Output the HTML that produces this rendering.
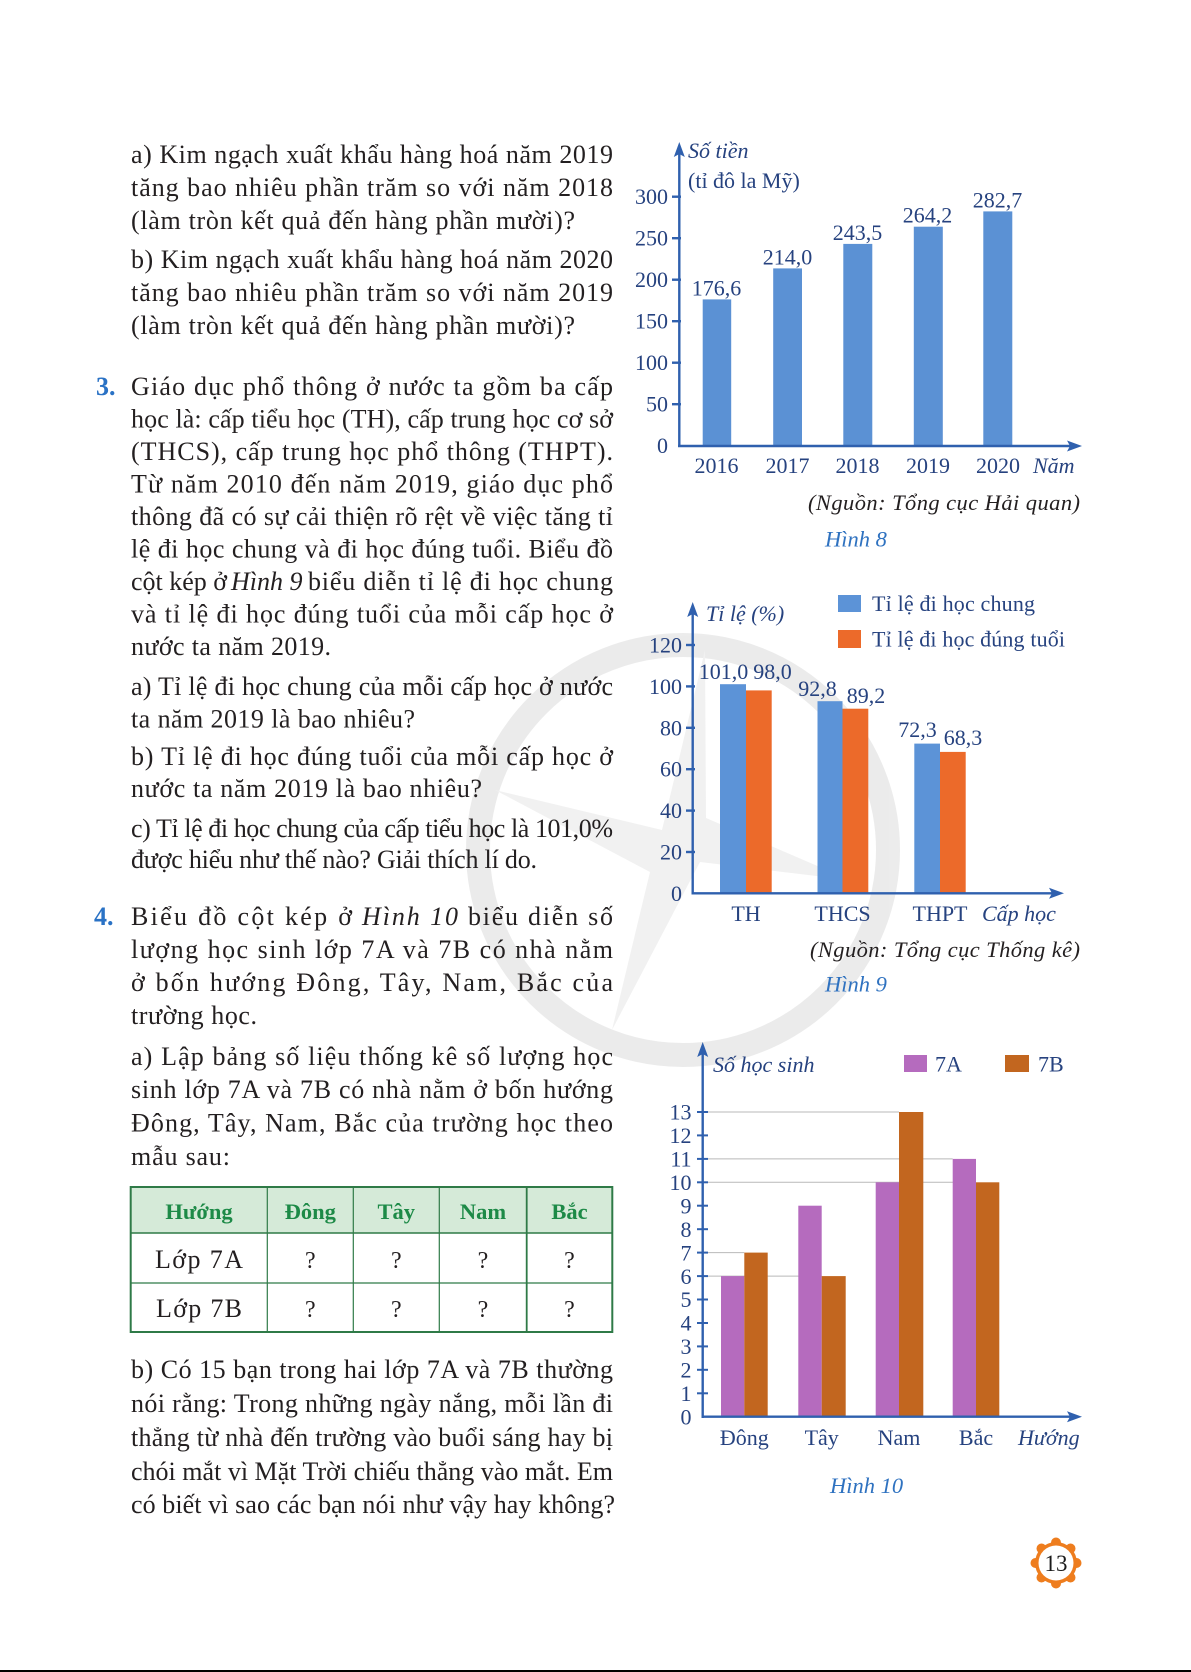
<!DOCTYPE html>
<html>
<head>
<meta charset="utf-8">
<style>
html,body{margin:0;padding:0;background:#fff;}
svg{display:block;}
.b{font-family:"Liberation Serif",serif;font-size:26px;fill:#231f20;}
.c{font-family:"Liberation Serif",serif;font-size:22px;fill:#26427f;}
.ci{font-family:"Liberation Serif",serif;font-size:22px;fill:#26427f;font-style:italic;}
.src{font-family:"Liberation Serif",serif;font-size:22.5px;fill:#231f20;font-style:italic;}
.cap{font-family:"Liberation Serif",serif;font-size:22.5px;fill:#2f72c0;font-style:italic;}
.num{font-family:"Liberation Serif",serif;font-size:26px;font-weight:bold;fill:#2a72c5;}
.th{font-family:"Liberation Serif",serif;font-size:22.5px;font-weight:bold;fill:#1d8a47;}
</style>
</head>
<body>
<svg width="1191" height="1672" viewBox="0 0 1191 1672" xmlns="http://www.w3.org/2000/svg">
<rect x="0" y="0" width="1191" height="1672" fill="#ffffff"/>

<!-- watermark -->
<g opacity="0.55">
<circle cx="683" cy="850" r="205" fill="none" stroke="#dcdcdc" stroke-width="24"/>
<path d="M705,650 L662,830 L495,790 L650,872 L612,1030 L700,862 L850,880 L706,818 Z" fill="#e6e6e6"/>
</g>

<!-- ===== Left column text ===== -->
<g class="b">
<text x="131" y="163" textLength="482" lengthAdjust="spacing">a) Kim ngạch xuất khẩu hàng hoá năm 2019</text>
<text x="131" y="196" textLength="482" lengthAdjust="spacing">tăng bao nhiêu phần trăm so với năm 2018</text>
<text x="131" y="229" textLength="444" lengthAdjust="spacing">(làm tròn kết quả đến hàng phần mười)?</text>
<text x="131" y="268" textLength="482" lengthAdjust="spacing">b) Kim ngạch xuất khẩu hàng hoá năm 2020</text>
<text x="131" y="301" textLength="482" lengthAdjust="spacing">tăng bao nhiêu phần trăm so với năm 2019</text>
<text x="131" y="334" textLength="444" lengthAdjust="spacing">(làm tròn kết quả đến hàng phần mười)?</text>

<text x="131" y="395" textLength="482" lengthAdjust="spacing">Giáo dục phổ thông ở nước ta gồm ba cấp</text>
<text x="131" y="427.5" textLength="482" lengthAdjust="spacing">học là: cấp tiểu học (TH), cấp trung học cơ sở</text>
<text x="131" y="460" textLength="482" lengthAdjust="spacing">(THCS), cấp trung học phổ thông (THPT).</text>
<text x="131" y="492.5" textLength="482" lengthAdjust="spacing">Từ năm 2010 đến năm 2019, giáo dục phổ</text>
<text x="131" y="525" textLength="482" lengthAdjust="spacing">thông đã có sự cải thiện rõ rệt về việc tăng tỉ</text>
<text x="131" y="557.5" textLength="482" lengthAdjust="spacing">lệ đi học chung và đi học đúng tuổi. Biểu đồ</text>
<text x="131" y="590">cột kép ở</text>
<text x="231" y="590" font-style="italic">Hình 9</text>
<text x="308" y="590" textLength="305" lengthAdjust="spacing">biểu diễn tỉ lệ đi học chung</text>
<text x="131" y="622.5" textLength="482" lengthAdjust="spacing">và tỉ lệ đi học đúng tuổi của mỗi cấp học ở</text>
<text x="131" y="655" textLength="200" lengthAdjust="spacing">nước ta năm 2019.</text>
<text x="131" y="695" textLength="482" lengthAdjust="spacing">a) Tỉ lệ đi học chung của mỗi cấp học ở nước</text>
<text x="131" y="727.5" textLength="284" lengthAdjust="spacing">ta năm 2019 là bao nhiêu?</text>
<text x="131" y="765" textLength="482" lengthAdjust="spacing">b) Tỉ lệ đi học đúng tuổi của mỗi cấp học ở</text>
<text x="131" y="797" textLength="351" lengthAdjust="spacing">nước ta năm 2019 là bao nhiêu?</text>
<text x="131" y="837" textLength="482" lengthAdjust="spacing">c) Tỉ lệ đi học chung của cấp tiểu học là 101,0%</text>
<text x="131" y="868" textLength="406" lengthAdjust="spacing">được hiểu như thế nào? Giải thích lí do.</text>

<text x="131" y="925" textLength="221" lengthAdjust="spacing">Biểu đồ cột kép ở</text>
<text x="362" y="925" textLength="96" lengthAdjust="spacing" font-style="italic">Hình 10</text>
<text x="468" y="925" textLength="145" lengthAdjust="spacing">biểu diễn số</text>
<text x="131" y="958" textLength="482" lengthAdjust="spacing">lượng học sinh lớp 7A và 7B có nhà nằm</text>
<text x="131" y="991" textLength="482" lengthAdjust="spacing">ở bốn hướng Đông, Tây, Nam, Bắc của</text>
<text x="131" y="1024" textLength="126" lengthAdjust="spacing">trường học.</text>
<text x="131" y="1065" textLength="482" lengthAdjust="spacing">a) Lập bảng số liệu thống kê số lượng học</text>
<text x="131" y="1098" textLength="482" lengthAdjust="spacing">sinh lớp 7A và 7B có nhà nằm ở bốn hướng</text>
<text x="131" y="1131.5" textLength="482" lengthAdjust="spacing">Đông, Tây, Nam, Bắc của trường học theo</text>
<text x="131" y="1165" textLength="99" lengthAdjust="spacing">mẫu sau:</text>

<text x="131" y="1378" textLength="482" lengthAdjust="spacing">b) Có 15 bạn trong hai lớp 7A và 7B thường</text>
<text x="131" y="1412" textLength="482" lengthAdjust="spacing">nói rằng: Trong những ngày nắng, mỗi lần đi</text>
<text x="131" y="1446" textLength="482" lengthAdjust="spacing">thẳng từ nhà đến trường vào buổi sáng hay bị</text>
<text x="131" y="1480" textLength="482" lengthAdjust="spacing">chói mắt vì Mặt Trời chiếu thẳng vào mắt. Em</text>
<text x="131" y="1513" textLength="484" lengthAdjust="spacing">có biết vì sao các bạn nói như vậy hay không?</text>
</g>
<text class="num" x="96" y="395">3.</text>
<text class="num" x="94" y="925">4.</text>

<!-- ===== Table ===== -->
<rect x="130.7" y="1187" width="481.6" height="46" fill="#d5ead8"/>
<g stroke="#2f7a47" fill="none">
<rect x="130.7" y="1187" width="481.6" height="145" stroke-width="2"/>
<line x1="130.7" y1="1233" x2="612.3" y2="1233" stroke-width="1.5"/>
<line x1="130.7" y1="1283" x2="612.3" y2="1283" stroke-width="1.2"/>
<line x1="267.3" y1="1187" x2="267.3" y2="1332" stroke-width="1.2"/>
<line x1="353.3" y1="1187" x2="353.3" y2="1332" stroke-width="1.2"/>
<line x1="439.3" y1="1187" x2="439.3" y2="1332" stroke-width="1.2"/>
<line x1="526.7" y1="1187" x2="526.7" y2="1332" stroke-width="1.8"/>
</g>
<g class="th" text-anchor="middle">
<text x="199" y="1219">Hướng</text>
<text x="310.3" y="1219">Đông</text>
<text x="396.3" y="1219">Tây</text>
<text x="483" y="1219">Nam</text>
<text x="569.5" y="1219">Bắc</text>
</g>
<g class="b" text-anchor="middle">
<text x="199" y="1268" textLength="88" lengthAdjust="spacing">Lớp 7A</text>
<text x="199" y="1317" textLength="86" lengthAdjust="spacing">Lớp 7B</text>
<text x="310.3" y="1268" font-size="24">?</text>
<text x="396.3" y="1268" font-size="24">?</text>
<text x="483" y="1268" font-size="24">?</text>
<text x="569.5" y="1268" font-size="24">?</text>
<text x="310.3" y="1317" font-size="24">?</text>
<text x="396.3" y="1317" font-size="24">?</text>
<text x="483" y="1317" font-size="24">?</text>
<text x="569.5" y="1317" font-size="24">?</text>
</g>

<!-- ===== Chart 1 (Hình 8) ===== -->
<g fill="#5b91d4">
<rect x="702.7" y="299.4" width="28.5" height="146.6"/>
<rect x="773.2" y="268.4" width="28.8" height="177.6"/>
<rect x="843.3" y="243.9" width="29" height="202.1"/>
<rect x="913.8" y="226.7" width="29" height="219.3"/>
<rect x="983.3" y="211.4" width="29" height="234.6"/>
</g>
<g stroke="#2f60ae" stroke-width="2.4" fill="none">
<line x1="679.3" y1="447" x2="679.3" y2="152"/>
<line x1="678" y1="446" x2="1070" y2="446"/>
<line x1="672" y1="196.7" x2="681" y2="196.7"/>
<line x1="672" y1="238.2" x2="681" y2="238.2"/>
<line x1="672" y1="279.7" x2="681" y2="279.7"/>
<line x1="672" y1="321.2" x2="681" y2="321.2"/>
<line x1="672" y1="362.7" x2="681" y2="362.7"/>
<line x1="672" y1="404.2" x2="681" y2="404.2"/>
</g>
<g fill="#2f60ae">
<polygon points="679.3,142 673.8,157 679.3,154 684.8,157"/>
<polygon points="1082,446 1067,440.5 1070,446 1067,451.5"/>
</g>
<g class="c" text-anchor="end">
<text x="668" y="204">300</text>
<text x="668" y="245.5">250</text>
<text x="668" y="287">200</text>
<text x="668" y="328.5">150</text>
<text x="668" y="370">100</text>
<text x="668" y="411.5">50</text>
<text x="668" y="453">0</text>
</g>
<g class="c" text-anchor="middle">
<text x="716.5" y="295.4">176,6</text>
<text x="787.5" y="264.4">214,0</text>
<text x="857.5" y="239.9">243,5</text>
<text x="927.5" y="222.7">264,2</text>
<text x="997.5" y="207.4">282,7</text>
<text x="716.5" y="473">2016</text>
<text x="787.5" y="473">2017</text>
<text x="857.5" y="473">2018</text>
<text x="928" y="473">2019</text>
<text x="998" y="473">2020</text>
</g>
<text class="ci" x="1033" y="473">Năm</text>
<text class="ci" x="688" y="158">Số tiền</text>
<text class="c" x="688" y="188">(tỉ đô la Mỹ)</text>
<text class="src" x="808" y="510" textLength="272" lengthAdjust="spacing">(Nguồn: Tổng cục Hải quan)</text>
<text class="cap" x="825" y="546.5">Hình 8</text>

<!-- ===== Chart 2 (Hình 9) ===== -->
<g fill="#5c93d7">
<rect x="720" y="684.2" width="26" height="209.1"/>
<rect x="817.5" y="701.2" width="25" height="192.1"/>
<rect x="914.3" y="743.6" width="25.7" height="149.7"/>
<rect x="838" y="595" width="23" height="17"/>
</g>
<g fill="#ec6a2a">
<rect x="746" y="690.4" width="25.7" height="202.9"/>
<rect x="842.5" y="708.7" width="25.8" height="184.6"/>
<rect x="940" y="751.9" width="25.7" height="141.4"/>
<rect x="838" y="630" width="23" height="18"/>
</g>
<g stroke="#2f60ae" stroke-width="2.4" fill="none">
<line x1="692.7" y1="894.5" x2="692.7" y2="612"/>
<line x1="691.5" y1="893.3" x2="1052" y2="893.3"/>
<line x1="686" y1="645" x2="695" y2="645"/>
<line x1="686" y1="686.4" x2="695" y2="686.4"/>
<line x1="686" y1="727.8" x2="695" y2="727.8"/>
<line x1="686" y1="769.2" x2="695" y2="769.2"/>
<line x1="686" y1="810.6" x2="695" y2="810.6"/>
<line x1="686" y1="852" x2="695" y2="852"/>
</g>
<g fill="#2f60ae">
<polygon points="692.7,602 687.2,617 692.7,614 698.2,617"/>
<polygon points="1064,893.3 1049,887.8 1052,893.3 1049,898.8"/>
</g>
<g class="c" text-anchor="end">
<text x="682" y="652.5">120</text>
<text x="682" y="694">100</text>
<text x="682" y="735.3">80</text>
<text x="682" y="776.7">60</text>
<text x="682" y="818">40</text>
<text x="682" y="859.5">20</text>
<text x="682" y="901">0</text>
</g>
<g class="c" text-anchor="middle">
<text x="723.5" y="679">101,0</text>
<text x="772.5" y="679">98,0</text>
<text x="817.5" y="696">92,8</text>
<text x="866" y="703">89,2</text>
<text x="917.5" y="737">72,3</text>
<text x="963" y="745">68,3</text>
<text x="746" y="921">TH</text>
<text x="842.5" y="921">THCS</text>
<text x="940" y="921">THPT</text>
</g>
<text class="ci" x="982" y="921">Cấp học</text>
<text class="ci" x="706" y="621">Tỉ lệ (%)</text>
<text class="c" x="872" y="611" textLength="163" lengthAdjust="spacing">Tỉ lệ đi học chung</text>
<text class="c" x="872" y="646.5" textLength="193" lengthAdjust="spacing">Tỉ lệ đi học đúng tuổi</text>
<text class="src" x="810" y="957" textLength="270" lengthAdjust="spacing">(Nguồn: Tổng cục Thống kê)</text>
<text class="cap" x="825" y="991.5">Hình 9</text>

<!-- ===== Chart 3 (Hình 10) ===== -->
<g stroke="#b9b9b9" stroke-width="1">
<line x1="703" y1="1276.1" x2="821.7" y2="1276.1"/>
<line x1="703" y1="1252.6" x2="744.3" y2="1252.6"/>
<line x1="703" y1="1182.3" x2="976" y2="1182.3"/>
<line x1="703" y1="1158.9" x2="952.7" y2="1158.9"/>
<line x1="703" y1="1112" x2="899" y2="1112"/>
</g>
<g fill="#b56bbe">
<rect x="721" y="1276.1" width="23.3" height="140.6"/>
<rect x="798.3" y="1205.7" width="23.4" height="211"/>
<rect x="875.7" y="1182.3" width="23.3" height="234.4"/>
<rect x="952.7" y="1158.9" width="23.3" height="257.8"/>
<rect x="904" y="1055" width="23" height="17"/>
</g>
<g fill="#c2661f">
<rect x="744.3" y="1252.6" width="23.4" height="164.1"/>
<rect x="821.7" y="1276.1" width="24" height="140.6"/>
<rect x="899" y="1112" width="24.3" height="304.7"/>
<rect x="976" y="1182.3" width="23.3" height="234.4"/>
<rect x="1005" y="1055" width="24" height="17"/>
</g>
<g stroke="#2f60ae" stroke-width="2.4" fill="none">
<line x1="702.7" y1="1418" x2="702.7" y2="1052"/>
<line x1="701.5" y1="1416.7" x2="1070" y2="1416.7"/>
</g>
<g stroke="#2f60ae" stroke-width="2" fill="none">
<line x1="697" y1="1393.3" x2="708" y2="1393.3"/>
<line x1="697" y1="1369.8" x2="708" y2="1369.8"/>
<line x1="697" y1="1346.4" x2="708" y2="1346.4"/>
<line x1="697" y1="1323" x2="708" y2="1323"/>
<line x1="697" y1="1299.5" x2="708" y2="1299.5"/>
<line x1="697" y1="1276.1" x2="708" y2="1276.1"/>
<line x1="697" y1="1252.6" x2="708" y2="1252.6"/>
<line x1="697" y1="1229.2" x2="708" y2="1229.2"/>
<line x1="697" y1="1205.7" x2="708" y2="1205.7"/>
<line x1="697" y1="1182.3" x2="708" y2="1182.3"/>
<line x1="697" y1="1158.9" x2="708" y2="1158.9"/>
<line x1="697" y1="1135.4" x2="708" y2="1135.4"/>
<line x1="697" y1="1112" x2="708" y2="1112"/>
</g>
<g fill="#2f60ae">
<polygon points="702.7,1042 697.2,1057 702.7,1054 708.2,1057"/>
<polygon points="1082,1416.7 1067,1411.2 1070,1416.7 1067,1422.2"/>
</g>
<g class="c" text-anchor="end">
<text x="691.5" y="1424.5">0</text>
<text x="691.5" y="1401">1</text>
<text x="691.5" y="1377.5">2</text>
<text x="691.5" y="1354">3</text>
<text x="691.5" y="1330.7">4</text>
<text x="691.5" y="1307.2">5</text>
<text x="691.5" y="1283.8">6</text>
<text x="691.5" y="1260.3">7</text>
<text x="691.5" y="1236.9">8</text>
<text x="691.5" y="1213.4">9</text>
<text x="691.5" y="1190">10</text>
<text x="691.5" y="1166.6">11</text>
<text x="691.5" y="1143.1">12</text>
<text x="691.5" y="1119.7">13</text>
</g>
<g class="c" text-anchor="middle">
<text x="744.3" y="1445">Đông</text>
<text x="821.7" y="1445">Tây</text>
<text x="899" y="1445">Nam</text>
<text x="976" y="1445">Bắc</text>
</g>
<text class="ci" x="1018" y="1445">Hướng</text>
<text class="ci" x="713" y="1072">Số học sinh</text>
<text class="c" x="935" y="1071.5">7A</text>
<text class="c" x="1038" y="1071.5">7B</text>
<text class="cap" x="830" y="1493">Hình 10</text>

<!-- ===== Page number ===== -->
<g fill="#ee7d1e">
<circle cx="1056" cy="1563" r="21"/>
<circle cx="1056" cy="1542.5" r="5"/>
<circle cx="1070.5" cy="1548.5" r="5"/>
<circle cx="1076.5" cy="1563" r="5"/>
<circle cx="1070.5" cy="1577.5" r="5"/>
<circle cx="1056" cy="1583.5" r="5"/>
<circle cx="1041.5" cy="1577.5" r="5"/>
<circle cx="1035.5" cy="1563" r="5"/>
<circle cx="1041.5" cy="1548.5" r="5"/>
</g>
<circle cx="1056" cy="1563" r="17.5" fill="#ffffff"/>
<text x="1056" y="1571" text-anchor="middle" font-family="Liberation Serif, serif" font-size="23" fill="#1a1a1a">13</text>

<line x1="0" y1="1671" x2="1191" y2="1671" stroke="#000" stroke-width="2"/>
</svg>
</body>
</html>
